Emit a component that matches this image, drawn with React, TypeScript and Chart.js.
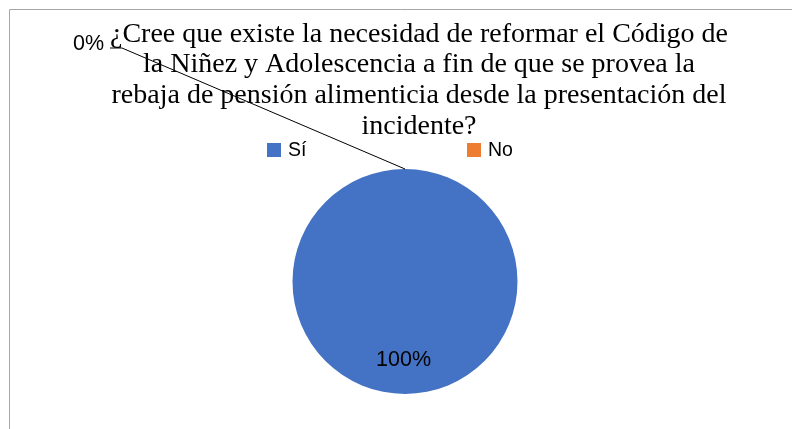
import React, { useEffect, useRef } from "react";
import { Chart, registerables } from "chart.js";

Chart.register(...registerables);

const titleLines = [
  "¿Cree que existe la necesidad de reformar el Código de",
  "la Niñez y Adolescencia a fin de que se provea la",
  "rebaja de pensión alimenticia desde la presentación del",
  "incidente?",
];
const categories = ["Sí", "No"];
const values = [100, 0];
const percentLabels = ["100%", "0%"];
const colors = ["#4472C4", "#ED7D31"];

const SANS = "'Liberation Sans', Arial, sans-serif";

const decorPlugin = {
  id: "decor",
  beforeDraw(chart: any) {
    const ctx = chart.ctx;
    ctx.save();
    ctx.fillStyle = "#ffffff";
    ctx.fillRect(0, 0, chart.width, chart.height);
    ctx.strokeStyle = "#a6a6a6";
    ctx.lineWidth = 1;
    ctx.beginPath();
    ctx.moveTo(9.5, chart.height);
    ctx.lineTo(9.5, 9.5);
    ctx.lineTo(chart.width, 9.5);
    ctx.stroke();
    ctx.restore();
  },
  afterDraw(chart: any) {
    const ctx = chart.ctx;
    ctx.save();
    // title
    ctx.fillStyle = "#000000";
    ctx.font = "28px 'Liberation Serif', 'Times New Roman', serif";
    ctx.textAlign = "center";
    ctx.textBaseline = "alphabetic";
    titleLines.forEach((l, i) => ctx.fillText(l, 419, 41.5 + i * 30.9));

    // legend
    ctx.font = `19.5px ${SANS}`;
    ctx.textAlign = "left";
    ctx.textBaseline = "middle";
    const legendX = [267, 467];
    categories.forEach((c, i) => {
      ctx.fillStyle = colors[i];
      ctx.fillRect(legendX[i], 143, 14, 14);
      ctx.fillStyle = "#000000";
      ctx.fillText(c, legendX[i] + 21, 151);
    });

    // data labels
    const meta = chart.getDatasetMeta(0);
    ctx.font = `21.5px ${SANS}`;
    ctx.textAlign = "center";
    ctx.textBaseline = "middle";
    meta.data.forEach((arc: any, i: number) => {
      const p = arc.getProps(["x", "y", "startAngle", "endAngle", "outerRadius"], true);
      if (values[i] > 0) {
        const mid = (p.startAngle + p.endAngle) / 2;
        const r = p.outerRadius * 0.69;
        ctx.fillStyle = "#000000";
        ctx.fillText(percentLabels[i], p.x + Math.cos(mid) * r - 1.5, p.y + Math.sin(mid) * r + 1);
      } else {
        const ex = p.x + Math.cos(p.startAngle) * p.outerRadius;
        const ey = p.y + Math.sin(p.startAngle) * p.outerRadius;
        ctx.strokeStyle = "#000000";
        ctx.lineWidth = 1;
        ctx.beginPath();
        ctx.moveTo(110, 48);
        ctx.lineTo(122, 48);
        ctx.lineTo(ex, ey);
        ctx.stroke();
        ctx.fillStyle = "#000000";
        ctx.fillText(percentLabels[i], 88.5, 44);
      }
    });
    ctx.restore();
  },
};

export default function App() {
  const ref = useRef<HTMLCanvasElement>(null);
  useEffect(() => {
    if (!ref.current) return;
    const chart = new Chart(ref.current, {
      type: "pie",
      data: {
        labels: categories,
        datasets: [
          {
            data: values,
            backgroundColor: colors,
            borderWidth: 0,
          },
        ],
      },
      options: {
        animation: false,
        responsive: false,
        devicePixelRatio: 1,
        layout: { padding: { top: 169, bottom: 35, left: 292.5, right: 274.5 } },
        plugins: {
          legend: { display: false },
          title: { display: false },
          tooltip: { enabled: false },
        },
      },
      plugins: [decorPlugin],
    });
    return () => chart.destroy();
  }, []);
  return (
    <div style={{ position: "fixed", left: 0, top: 0, width: 792, height: 429, background: "#fff" }}>
      <canvas ref={ref} width={792} height={429} style={{ display: "block" }} />
    </div>
  );
}
